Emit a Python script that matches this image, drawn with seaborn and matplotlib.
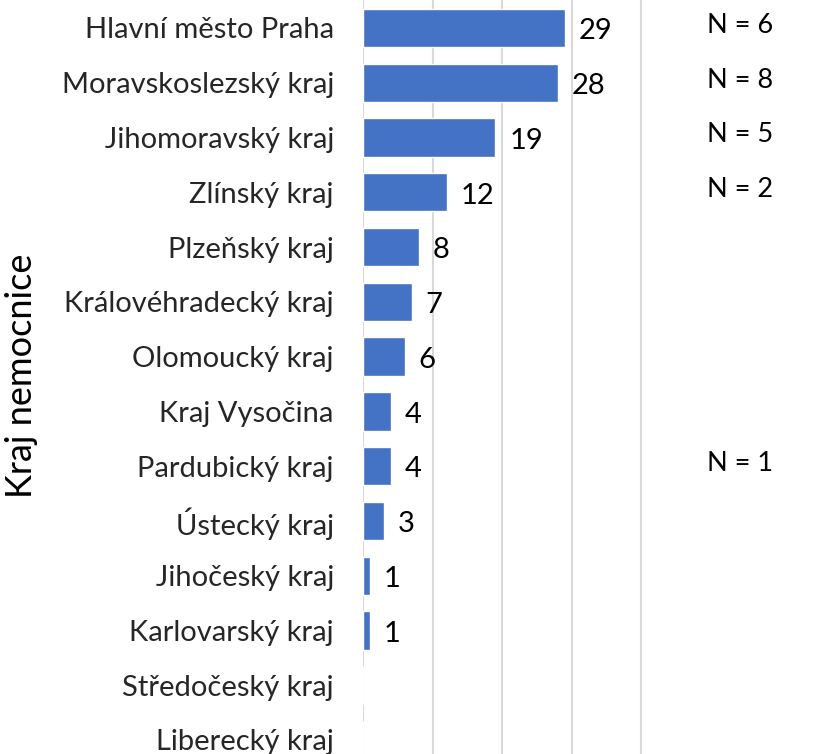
import matplotlib
matplotlib.use("Agg")
import matplotlib.pyplot as plt
import seaborn as sns
import pandas as pd

categories = ["Hlavní město Praha", "Moravskoslezský kraj", "Jihomoravský kraj",
              "Zlínský kraj", "Plzeňský kraj", "Královéhradecký kraj",
              "Olomoucký kraj", "Kraj Vysočina", "Pardubický kraj", "Ústecký kraj",
              "Jihočeský kraj", "Karlovarský kraj", "Středočeský kraj", "Liberecký kraj"]
values = [29, 28, 19, 12, 8, 7, 6, 4, 4, 3, 1, 1, 0, 0]
n_labels = ["N = 6", "N = 8", "N = 5", "N = 2", "", "", "", "", "N = 1", "", "", "", "", ""]
y_title = "Kraj nemocnice"

sns.set_theme(style="white")
plt.rcParams["font.family"] = ["Lato", "DejaVu Sans"]

W, H = 815, 754
fig = plt.figure(figsize=(W / 100, H / 100), dpi=100)
left_px = 363
ax = fig.add_axes([left_px / W, 0, 1 - left_px / W, 1])

df = pd.DataFrame({"cat": categories, "val": values})
sns.barplot(data=df, x="val", y="cat", orient="h", color="#4472C4",
            saturation=1, width=0.7, ax=ax)

px_per_unit = 6.96
ax.set_xlim(0, (W - left_px) / px_per_unit)
row_px = (740 - 28) / 13
ax.set_ylim(13 + (H - 740) / row_px, -28 / row_px)

ax.set_xticks([0, 10, 20, 30, 40])
ax.set_xticklabels([])
ax.tick_params(axis="x", length=0)
ax.xaxis.grid(True, color="#D9D9D9", linewidth=1.5)
ax.set_axisbelow(True)
for s in ax.spines.values():
    s.set_visible(False)

ax.tick_params(axis="y", length=0, pad=21, labelsize=21)
ax.set_xlabel("")
ax.set_ylabel("")
fig.text(22 / W, 1 - 376 / H, y_title, rotation=90, ha="center", va="center",
         fontsize=26, color="black")

for i, v in enumerate(values):
    if v > 0:
        ax.text(v + 2.0, i + 0.06, str(v), va="center", ha="left", fontsize=21, color="black")
for i, t in enumerate(n_labels):
    if t:
        ax.text((740 - left_px) / px_per_unit, i - 0.05, t, va="center", ha="center",
                fontsize=19.5, color="black")

fig.savefig("out.png", dpi=100)
